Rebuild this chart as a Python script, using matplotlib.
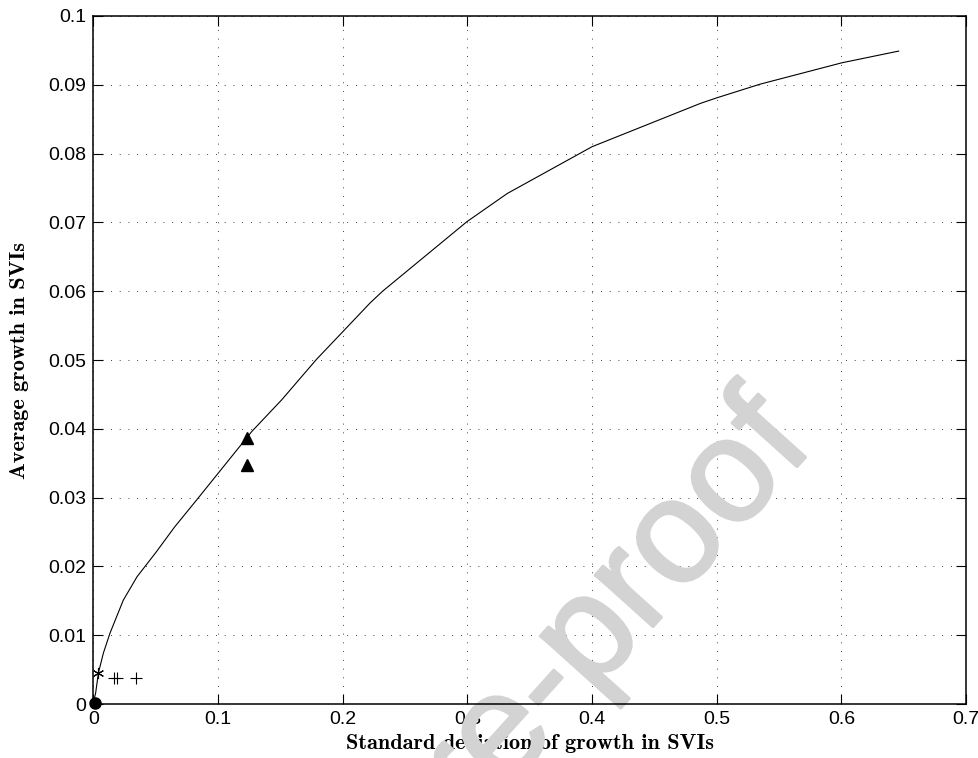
import numpy as np
import matplotlib
matplotlib.use("Agg")
import matplotlib.pyplot as plt
from matplotlib.textpath import TextPath
from matplotlib.patches import PathPatch
from matplotlib.font_manager import FontProperties
from matplotlib.transforms import Affine2D

# frontier curve
curveX = [0.0, 0.0005, 0.0018, 0.004, 0.008, 0.0133, 0.024, 0.035, 0.05, 0.065,
          0.083, 0.127, 0.151, 0.179, 0.2, 0.222, 0.232, 0.2996, 0.332, 0.4,
          0.487, 0.5, 0.535, 0.6005, 0.646]
curveY = [0.0, 0.0006, 0.0016, 0.0045, 0.0074, 0.0103, 0.0151, 0.0185, 0.022, 0.0257,
          0.0297, 0.0396, 0.0442, 0.0501, 0.0541, 0.0583, 0.060, 0.0701, 0.0742, 0.081,
          0.0873, 0.0881, 0.0901, 0.0932, 0.0949]

# single points
triX = [0.123, 0.123]
triY = [0.0386, 0.0347]
starX = [0.004]
starY = [0.0045]
plusX = [0.0165, 0.0192, 0.0342]
plusY = [0.0038, 0.0038, 0.0038]
dotX = [0.0013]
dotY = [0.0002]

xTicks = [0, 0.1, 0.2, 0.3, 0.4, 0.5, 0.6, 0.7]
xTickLabels = ["0", "0.1", "0.2", "0.3", "0.4", "0.5", "0.6", "0.7"]
yTicks = [0, 0.01, 0.02, 0.03, 0.04, 0.05, 0.06, 0.07, 0.08, 0.09, 0.1]
yTickLabels = ["0", "0.01", "0.02", "0.03", "0.04", "0.05", "0.06", "0.07", "0.08", "0.09", "0.1"]

plt.rcParams["font.family"] = ["Liberation Sans", "DejaVu Sans"]

fig = plt.figure(figsize=(9.79, 7.58), dpi=100)
ax = fig.add_axes([0.0954, 0.0712, 0.8913, 0.9077])

ax.plot(curveX, curveY, color="black", lw=0.8, zorder=3)
ax.plot(triX, triY, "^", color="black", ms=8, zorder=4, clip_on=False)
ax.plot(starX, starY, marker=(6, 2, 0), ls="none", color="black", ms=8, mew=0.8, zorder=4)
ax.plot(plusX, plusY, "+", color="black", ms=9, mew=0.8, zorder=4)
ax.plot(dotX, dotY, "o", color="black", ms=8, zorder=5, clip_on=False)

ax.set_xlim(0, 0.7)
ax.set_ylim(0, 0.1)
ax.set_xticks(xTicks)
ax.set_xticklabels(xTickLabels)
ax.set_yticks(yTicks)
ax.set_yticklabels(yTickLabels)
ax.tick_params(direction="in", length=7, width=0.8, top=True, right=True,
               labelsize=14, pad=5)
for s in ax.spines.values():
    s.set_linewidth(1.1)
    s.set_zorder(6)

ax.grid(True, color="black", lw=0.6, linestyle=(0, (1, 9.5)))

ax.set_xlabel("Standard deviation of growth in SVIs", family="cmb10", fontsize=16, labelpad=4)
ax.set_ylabel("Average growth in SVIs", family="cmb10", fontsize=16, labelpad=14)

# watermark: big grey text path, placed by the centre of the first "o" of "proof"
wmText = "Journal Pre-proof"
fp = FontProperties(family="Liberation Sans")
wmPath = TextPath((0, 0), wmText, size=1, prop=fp)
oRight = TextPath((0, 0), "Journal Pre-pro", size=1, prop=fp).get_extents().x1
anchorX, anchorY = oRight - 0.245, 0.26
emPx = 147
wmTrans = (Affine2D().translate(-anchorX, -anchorY).scale(emPx)
           .rotate_deg(48).translate(677, 758 - 543))
wm = PathPatch(wmPath, transform=wmTrans, facecolor="#d3d3d3", edgecolor="#d3d3d3",
               lw=2.0, joinstyle="round", zorder=2, clip_on=False)
ax.add_artist(wm)

fig.savefig("out.png", dpi=100)
